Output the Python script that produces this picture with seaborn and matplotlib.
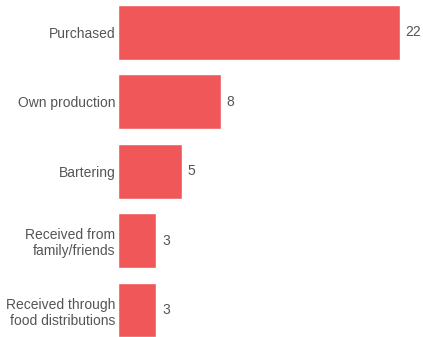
import pandas as pd
import seaborn as sns
import matplotlib.pyplot as plt

sources = [
    "Purchased",
    "Own production",
    "Bartering",
    "Received from\nfamily/friends",
    "Received through\nfood distributions",
]
counts = [22, 8, 5, 3, 3]

sns.set_style("white")
plt.rcParams["font.family"] = ["Liberation Sans", "DejaVu Sans"]

df = pd.DataFrame({"source": sources, "count": counts})

fig = plt.figure(figsize=(4.23, 3.37), dpi=100)
ax = fig.add_axes([118 / 423, 0, (423 - 118) / 423, 1])

sns.barplot(data=df, x="count", y="source", color="#EF5759", saturation=1,
            width=0.79, ax=ax)

ax.set_xlim(0, 22 * 305 / 282)
ax.set_ylim(4.388, -0.468)
ax.set_xlabel("")
ax.set_ylabel("")
ax.set_xticks([])
ax.tick_params(axis="y", length=0, pad=2, labelsize=10, labelcolor="#555555")
for lbl in ax.get_yticklabels():
    lbl.set_multialignment("right")
sns.despine(ax=ax, left=True, bottom=True)

for container in ax.containers:
    ax.bar_label(container, padding=4, fontsize=10, color="#555555")

fig.savefig("out.png", dpi=100)
